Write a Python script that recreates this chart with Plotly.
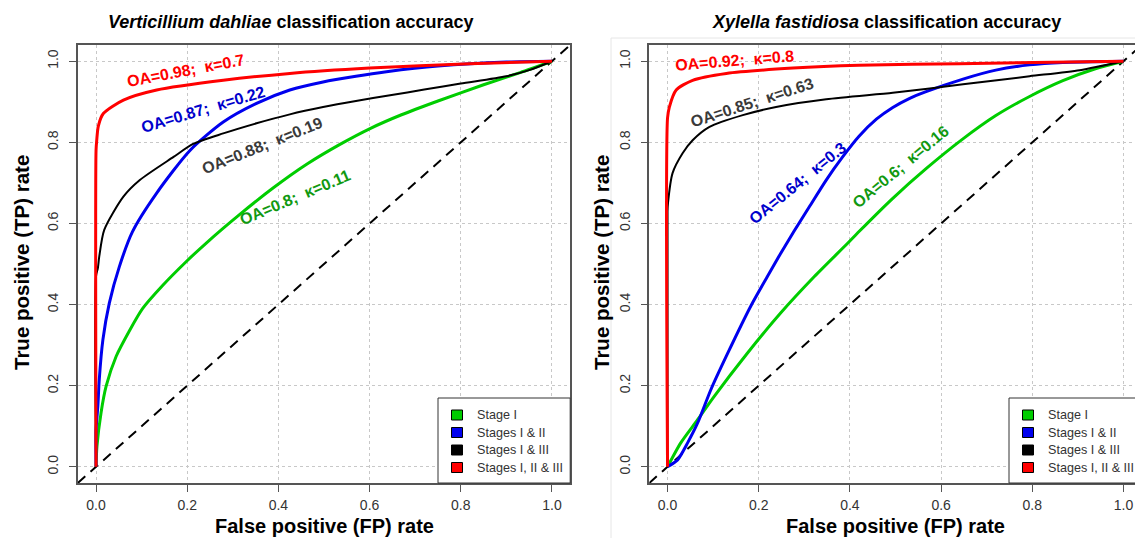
import plotly.graph_objects as go

W, H = 1135, 538
FONT = "Liberation Sans, Arial, sans-serif"

# ---------------- data ----------------
series_names = ["Stage I", "Stages I & II", "Stages I & III", "Stages I, II & III"]
line_colors = ["#00cd00", "#0000ee", "#000000", "#ff0000"]
label_colors = ["#119911", "#0000cc", "#3a3a3a", "#ff0000"]
line_widths = [3, 3, 2, 3]

# Verticillium dahliae
vd_green_fpr = [0, 0.002, 0.011, 0.022, 0.044, 0.073, 0.102, 0.146, 0.197, 0.243, 0.316, 0.389, 0.462, 0.535, 0.601, 0.67, 0.75, 0.85, 0.93, 1.0]
vd_green_tpr = [0, 0.05, 0.133, 0.198, 0.272, 0.335, 0.39, 0.447, 0.505, 0.553, 0.623, 0.688, 0.746, 0.795, 0.834, 0.868, 0.902, 0.942, 0.972, 1.0]
vd_blue_fpr = [0, 0, 0.004, 0.007, 0.015, 0.029, 0.051, 0.08, 0.133, 0.206, 0.279, 0.352, 0.425, 0.498, 0.57, 0.637, 0.75, 0.90, 1.0]
vd_blue_tpr = [0, 0.09, 0.15, 0.214, 0.313, 0.403, 0.493, 0.58, 0.675, 0.78, 0.85, 0.896, 0.929, 0.949, 0.963, 0.974, 0.988, 0.998, 1.0]
vd_black_fpr = [0, 0, 0.004, 0.007, 0.018, 0.06, 0.096, 0.17, 0.213, 0.279, 0.352, 0.425, 0.498, 0.57, 0.645, 0.72, 0.80, 0.90, 0.95, 1.0]
vd_black_tpr = [0, 0.47, 0.49, 0.518, 0.584, 0.666, 0.707, 0.764, 0.796, 0.822, 0.847, 0.869, 0.887, 0.902, 0.916, 0.93, 0.945, 0.963, 0.978, 1.0]
vd_red_fpr = [0, 0, 0.0015, 0.005, 0.016, 0.06, 0.133, 0.279, 0.425, 0.60, 0.82, 1.0]
vd_red_tpr = [0, 0.78, 0.805, 0.84, 0.871, 0.904, 0.929, 0.953, 0.970, 0.983, 0.994, 1.0]

# Xylella fastidiosa
xf_green_fpr = [0, 0.029, 0.066, 0.102, 0.175, 0.248, 0.322, 0.395, 0.42, 0.494, 0.567, 0.645, 0.72, 0.794, 0.867, 0.94, 1.0]
xf_green_tpr = [0, 0.059, 0.116, 0.173, 0.28, 0.379, 0.469, 0.551, 0.58, 0.662, 0.735, 0.806, 0.866, 0.913, 0.952, 0.982, 1.0]
xf_blue_fpr = [0, 0.022, 0.044, 0.066, 0.095, 0.132, 0.183, 0.219, 0.248, 0.277, 0.311, 0.348, 0.384, 0.42, 0.458, 0.494, 0.53, 0.567, 0.648, 0.72, 0.794, 0.867, 1.0]
xf_blue_tpr = [0, 0.017, 0.059, 0.108, 0.19, 0.28, 0.397, 0.469, 0.526, 0.58, 0.641, 0.707, 0.764, 0.815, 0.857, 0.886, 0.908, 0.925, 0.956, 0.978, 0.991, 0.997, 1.0]
xf_black_fpr = [0, 0, 0.001, 0.011, 0.033, 0.055, 0.092, 0.165, 0.238, 0.348, 0.494, 0.575, 0.648, 0.794, 0.904, 1.0]
xf_black_tpr = [0, 0.63, 0.65, 0.724, 0.773, 0.805, 0.838, 0.867, 0.887, 0.906, 0.922, 0.933, 0.943, 0.963, 0.978, 1.0]
xf_red_fpr = [0, 0, 0.004, 0.019, 0.055, 0.129, 0.275, 0.42, 0.64, 1.0]
xf_red_tpr = [0, 0.86, 0.887, 0.929, 0.953, 0.970, 0.983, 0.99, 0.994, 1.0]

panel_titles = ["<b><i>Verticillium dahliae</i> classification accuracy</b>",
                "<b><i>Xylella fastidiosa</i> classification accuracy</b>"]

vd_labels = ["OA=0.8;\u00a0 κ=0.11", "OA=0.87;\u00a0 κ=0.22", "OA=0.88;\u00a0 κ=0.19", "OA=0.98;\u00a0 κ=0.7"]
vd_label_fpr = [0.436, 0.234, 0.365, 0.197]
vd_label_tpr = [0.664, 0.882, 0.793, 0.978]
vd_label_angle = [-23, -16.6, -21.8, -10.8]

xf_labels = ["OA=0.6;\u00a0 κ=0.16", "OA=0.64;\u00a0 κ=0.3", "OA=0.85;\u00a0 κ=0.63", "OA=0.92;\u00a0 κ=0.8"]
xf_label_fpr = [0.512, 0.284, 0.185, 0.147]
xf_label_tpr = [0.74, 0.699, 0.898, 1.002]
xf_label_angle = [-39.6, -39, -18, -4.6]

tick_vals = [0, 0.2, 0.4, 0.6, 0.8, 1.0]
tick_text = ["0.0", "0.2", "0.4", "0.6", "0.8", "1.0"]
AX_RANGE = [-0.04, 1.04]

# ---------------- layout geometry (pixels) ----------------
def px_x(p):
    return p / W

def px_y(p):
    return 1 - p / H

left_dom = [px_x(77.8), px_x(570.2)]
right_dom = [px_x(649.3), 1.0]
right_xmax = (W - 667.5) / 456.0
y_dom = [px_y(483), px_y(45)]

fig = go.Figure()

panels = [
    ("x", "y", [(vd_green_fpr, vd_green_tpr), (vd_blue_fpr, vd_blue_tpr), (vd_black_fpr, vd_black_tpr), (vd_red_fpr, vd_red_tpr)],
     vd_labels, vd_label_fpr, vd_label_tpr, vd_label_angle),
    ("x2", "y2", [(xf_green_fpr, xf_green_tpr), (xf_blue_fpr, xf_blue_tpr), (xf_black_fpr, xf_black_tpr), (xf_red_fpr, xf_red_tpr)],
     xf_labels, xf_label_fpr, xf_label_tpr, xf_label_angle),
]

for xa, ya, curves, labels, lx, ly, la in panels:
    # diagonal reference line (y = x across the full axis range)
    fig.add_trace(go.Scatter(x=AX_RANGE, y=AX_RANGE, mode="lines", xaxis=xa, yaxis=ya,
                             line=dict(color="black", width=2, dash="10px,7px"),
                             showlegend=False, hoverinfo="skip"))
    for i, (fx, ty) in enumerate(curves):
        fig.add_trace(go.Scatter(x=fx, y=ty, mode="lines", xaxis=xa, yaxis=ya,
                                 line=dict(color=line_colors[i], width=line_widths[i],
                                           shape="spline", smoothing=0.7),
                                 showlegend=False, name=series_names[i]))
    for i, t in enumerate(labels):
        fig.add_annotation(x=lx[i], y=ly[i], xref=xa, yref=ya, text="<b>" + t + "</b>",
                           showarrow=False, textangle=la[i],
                           font=dict(family=FONT, size=16, color=label_colors[i]),
                           xanchor="center", yanchor="middle")

axis_common = dict(tickvals=tick_vals, ticktext=tick_text, ticks="outside", ticklen=7,
                   tickcolor="#555555", tickwidth=1, showgrid=True, gridcolor="#c8c8c8",
                   griddash="dot", gridwidth=1, zeroline=False, showline=True,
                   linecolor="#555555", linewidth=1.5,
                   tickfont=dict(family=FONT, size=14, color="#333333"))

fig.update_layout(
    xaxis=dict(domain=left_dom, range=AX_RANGE, anchor="y", mirror=True, ticklabelstandoff=1, **axis_common),
    yaxis=dict(domain=y_dom, range=AX_RANGE, anchor="x", mirror=True, tickangle=-90, ticklabelstandoff=5, **axis_common),
    xaxis2=dict(domain=right_dom, range=[AX_RANGE[0], right_xmax], anchor="y2", mirror=True, ticklabelstandoff=1, **axis_common),
    yaxis2=dict(domain=y_dom, range=AX_RANGE, anchor="x2", mirror=False, tickangle=-90, ticklabelstandoff=5, **axis_common),
    showlegend=False,
)

# ---------------- legends (drawn box, keys and texts) ----------------
legend_boxes = [(438, 570.2), (1009, 1145)]
legend_key_x = [457, 1028]
legend_text_x = [475, 1046]
legend_rows_y = [415, 432.5, 450, 467.5]
for (bx0, bx1), kx, tx in zip(legend_boxes, legend_key_x, legend_text_x):
    fig.add_shape(type="rect", xref="paper", yref="paper", x0=px_x(bx0), x1=px_x(bx1),
                  y0=px_y(483), y1=px_y(398), line=dict(color="#333333", width=1),
                  fillcolor="white", layer="above")
    for i, name in enumerate(series_names):
        ry = legend_rows_y[i]
        fig.add_shape(type="rect", xref="paper", yref="paper", x0=px_x(kx - 5.5), x1=px_x(kx + 5.5),
                      y0=px_y(ry + 5), y1=px_y(ry - 5), line=dict(color="black", width=1),
                      fillcolor=line_colors[i], layer="above")
        fig.add_annotation(x=px_x(tx), y=px_y(ry), xref="paper", yref="paper", text=name,
                           showarrow=False, xanchor="left", yanchor="middle",
                           font=dict(family=FONT, size=12.6, color="#333333"))

# titles
fig.add_annotation(x=px_x(291), y=px_y(22), xref="paper", yref="paper", text=panel_titles[0],
                   showarrow=False, font=dict(family=FONT, size=18, color="black"),
                   xanchor="center", yanchor="middle")
fig.add_annotation(x=px_x(886), y=px_y(22), xref="paper", yref="paper", text=panel_titles[1],
                   showarrow=False, font=dict(family=FONT, size=18, color="black"),
                   xanchor="center", yanchor="middle")

# axis titles
for cx in (324, 895):
    fig.add_annotation(x=px_x(cx), y=px_y(526), xref="paper", yref="paper",
                       text="<b>False positive (FP) rate</b>", showarrow=False,
                       font=dict(family=FONT, size=20, color="black"),
                       xanchor="center", yanchor="middle")
for cx in (21, 601):
    fig.add_annotation(x=px_x(cx), y=px_y(263), xref="paper", yref="paper",
                       text="<b>True positive (TP) rate</b>", showarrow=False, textangle=-90,
                       font=dict(family=FONT, size=20.5, color="black"),
                       xanchor="center", yanchor="middle")

# faint frame of the right-hand image
fig.add_shape(type="rect", xref="paper", yref="paper", x0=px_x(611), x1=px_x(1140),
              y0=px_y(545), y1=px_y(38), line=dict(color="#e6e6e6", width=1), layer="below")

fig.update_layout(width=W, height=H, margin=dict(l=0, r=0, t=0, b=0, autoexpand=False),
                  paper_bgcolor="white", plot_bgcolor="white")

fig.write_html("out.html", config={"displayModeBar": False},
               post_script="document.body.style.margin='0px';document.body.style.overflow='hidden';")
